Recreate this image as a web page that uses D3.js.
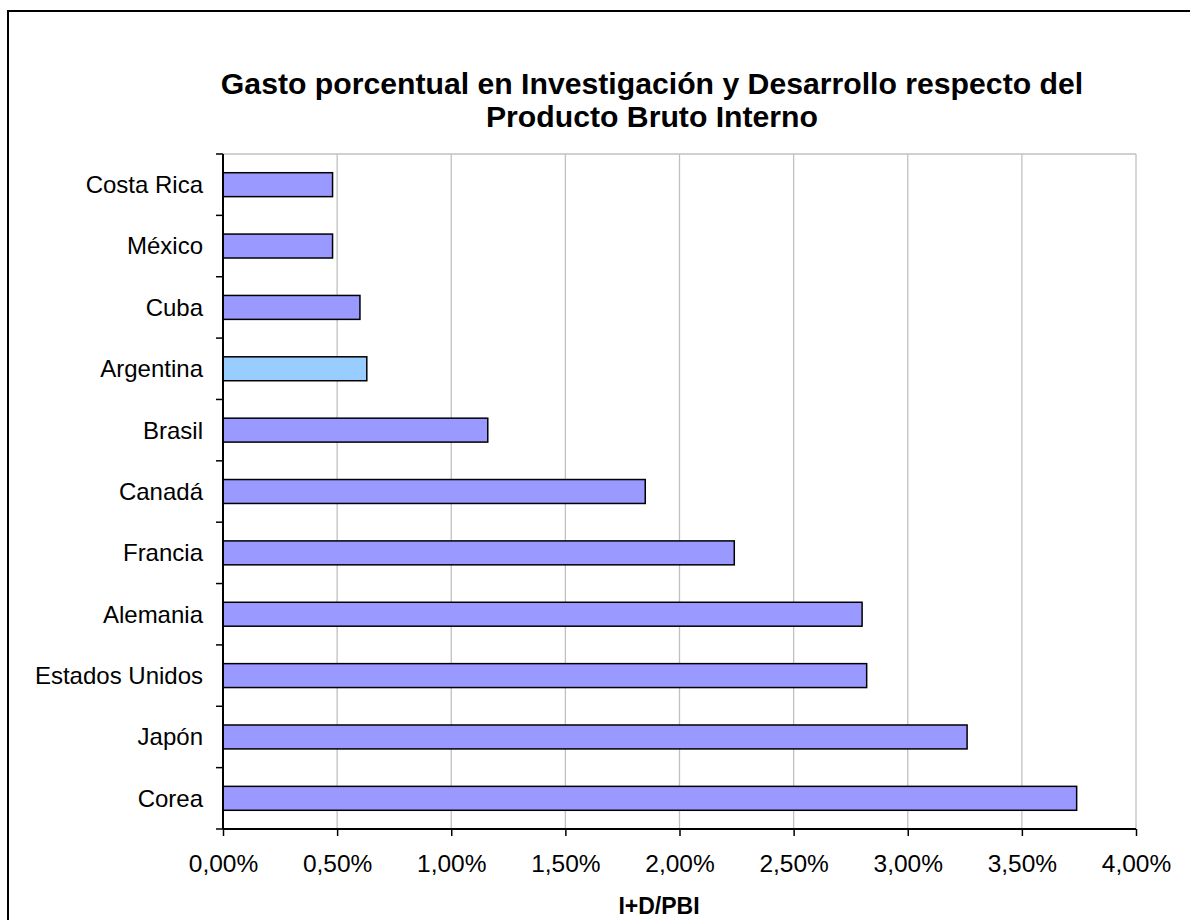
<!DOCTYPE html>
<html><head><meta charset="utf-8">
<script src="https://cdn.jsdelivr.net/npm/d3@7"></script>
<style>body{margin:0;background:#fff}svg{display:block;font-family:"Liberation Sans",Arial,sans-serif}</style>
</head><body><svg id="c" width="1190" height="920"></svg>
<script>
const categories = ["Costa Rica","México","Cuba","Argentina","Brasil","Canadá","Francia","Alemania","Estados Unidos","Japón","Corea"];
const values = [0.48,0.48,0.60,0.63,1.16,1.85,2.24,2.80,2.82,3.26,3.74];
const highlight = ["Argentina"];
const xTicks = [0,0.5,1,1.5,2,2.5,3,3.5,4];
const titleLines = ["Gasto porcentual en Investigación y Desarrollo respecto del","Producto Bruto Interno"];
const xTitle = "I+D/PBI";

const svg = d3.select("#c");
const m = {l:223, r:1136, t:154, b:829};
svg.append("rect").attr("x",8).attr("y",11).attr("width",1200).attr("height",1000)
  .attr("fill","none").attr("stroke","#000").attr("stroke-width",2);

const x = d3.scaleLinear().domain([0,4]).range([m.l,m.r]);
const y = d3.scaleBand().domain(categories).range([m.t,m.b]).paddingInner(0.61).paddingOuter(0.305);
const yb = d3.scaleBand().domain(categories).range([m.t,m.b]);

// gridlines
svg.append("g").selectAll("line").data(xTicks.slice(1)).join("line")
  .attr("x1",d=>x(d)).attr("x2",d=>x(d)).attr("y1",m.t).attr("y2",m.b)
  .attr("stroke","#c0c0c0").attr("stroke-width",1.3);
svg.append("line").attr("x1",m.l).attr("x2",m.r).attr("y1",m.t).attr("y2",m.t).attr("stroke","#c0c0c0").attr("stroke-width",1.3);

// bars
svg.append("g").selectAll("rect").data(categories).join("rect")
  .attr("x",x(0)).attr("y",d=>y(d)).attr("height",y.bandwidth())
  .attr("width",(d,i)=>x(values[i])-x(0))
  .attr("fill",d=>highlight.includes(d)?"#99ccff":"#9999ff")
  .attr("stroke","#000").attr("stroke-width",1.5);

// x axis
const xa = svg.append("g").attr("transform",`translate(0,${m.b})`)
  .call(d3.axisBottom(x).tickValues(xTicks).tickSize(7).tickPadding(19)
    .tickFormat(d=>d3.format(".2f")(d).replace(".",",")+"%"));
xa.select(".domain").attr("stroke","#000").attr("stroke-width",2).attr("d",`M${m.l},0H${m.r}`);
xa.selectAll(".tick line").attr("stroke","#000").attr("stroke-width",1.5);
xa.selectAll("text").attr("font-size",24.5).attr("fill","#000").attr("font-family","Liberation Sans, Arial, sans-serif");

// y axis
const ya = svg.append("g").attr("transform",`translate(${m.l},0)`);
ya.append("line").attr("x1",0).attr("x2",0).attr("y1",m.t).attr("y2",m.b).attr("stroke","#000").attr("stroke-width",2);
const bounds = categories.map(c=>yb(c)).concat([m.b]);
ya.selectAll("line.t").data(bounds).join("line").attr("class","t")
  .attr("x1",-7).attr("x2",0).attr("y1",d=>d).attr("y2",d=>d).attr("stroke","#000").attr("stroke-width",1.5);
ya.selectAll("text").data(categories).join("text")
  .attr("x",-20).attr("y",d=>yb(d)+yb.bandwidth()/2).attr("dy","0.35em")
  .attr("text-anchor","end").attr("font-size",24).text(d=>d);

// title
svg.append("g").selectAll("text").data(titleLines).join("text")
  .attr("x",652).attr("y",(d,i)=>94+i*33).attr("text-anchor","middle")
  .attr("font-size",30.2).attr("font-weight","bold").text(d=>d);
svg.append("text").attr("x",659).attr("y",914).attr("text-anchor","middle")
  .attr("font-size",23).attr("font-weight","bold").text(xTitle);
</script></body></html>
